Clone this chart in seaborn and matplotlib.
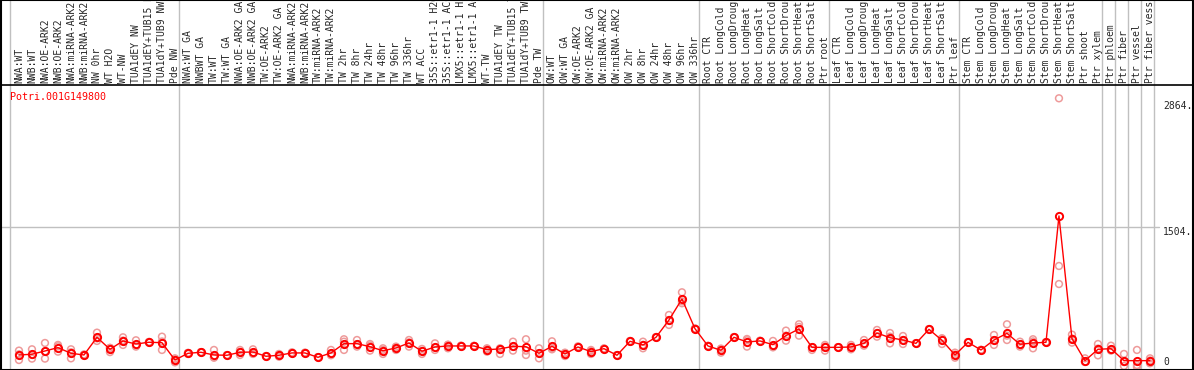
import numpy as np
import pandas as pd
import matplotlib
matplotlib.use("Agg")
import matplotlib.pyplot as plt
import seaborn as sns
from matplotlib.lines import Line2D
from matplotlib.patches import Rectangle
import matplotlib.transforms as mtransforms

gene = "Potri.001G149800"

samples = [
    "NWA:WT", "NWB:WT", "NWA:OE-ARK2", "NWB:OE-ARK2", "NWA:miRNA-ARK2", "NWB:miRNA-ARK2",
    "NW 0hr", "WT H2O", "WT-NW", "TUA1dEY NW", "TUA1dEY+TUB15 NW", "TUA1dY+TUB9 NW", "Pde NW",
    "NWA:WT GA", "NWBWT GA", "TW:WT", "TW:WT GA", "NWA:OE-ARK2 GA", "NWB:OE-ARK2 GA",
    "TW:OE-ARK2", "TW:OE-ARK2 GA", "NWA:miRNA-ARK2", "NWB:miRNA-ARK2", "TW:miRNA-ARK2",
    "TW:miRNA-ARK2", "TW 2hr", "TW 8hr", "TW 24hr", "TW 48hr", "TW 96hr", "TW 336hr",
    "WT ACC", "35S::etr1-1 H2O", "35S::etr1-1 ACC", "LMX5::etr1-1 H2O", "LMX5::etr1-1 ACC",
    "WT-TW", "TUA1dEY TW", "TUA1dEY+TUB15 TW", "TUA1dY+TUB9 TW", "Pde TW",
    "OW:WT", "OW:WT GA", "OW:OE-ARK2", "OW:OE-ARK2 GA", "OW:miRNA-ARK2", "OW:miRNA-ARK2",
    "OW 2hr", "OW 8hr", "OW 24hr", "OW 48hr", "OW 96hr", "OW 336hr",
    "Root CTR", "Root LongCold", "Root LongDrought", "Root LongHeat", "Root LongSalt",
    "Root ShortCold", "Root ShortDrought", "Root ShortHeat", "Root ShortSalt", "Ptr root",
    "Leaf CTR", "Leaf LongCold", "Leaf LongDrought", "Leaf LongHeat", "Leaf LongSalt",
    "Leaf ShortCold", "Leaf ShortDrought", "Leaf ShortHeat", "Leaf ShortSalt", "Ptr leaf",
    "Stem CTR", "Stem LongCold", "Stem LongDrought", "Stem LongHeat", "Stem LongSalt",
    "Stem ShortCold", "Stem ShortDrought", "Stem ShortHeat", "Stem ShortSalt", "Ptr shoot",
    "Ptr xylem", "Ptr phloem", "Ptr fiber", "Ptr vessel", "Ptr fiber vessel",
]

# mean expression per sample
mean_vals = [
    129, 137, 172, 208, 147, 129, 319, 190, 280, 247, 266, 261, 75,
    147, 158, 129, 126, 158, 161, 115, 126, 151, 151, 104, 151, 251, 251, 218,
    175, 204, 258, 169, 215, 226, 226, 226, 186, 194, 222, 218, 147,
    222, 140, 215, 165, 197, 126, 276, 237, 319, 505, 731, 412,
    226, 179, 319, 269, 280, 240, 337, 409, 211, 211,
    211, 215, 254, 365, 315, 290, 254, 405, 287, 129,
    265, 183, 290, 362, 244, 258, 265, 1624, 305, 68, 190,
    197, 68, 68, 68,
]

# replicate values
rep1 = [
    176, 190, 258, 237, 190, 135, 369, 205, 319, 287, 270, 326, 93,
    152, 160, 183, 128, 183, 190, 118, 140, 158, 155, 106, 183, 298, 290, 247,
    201, 219, 290, 194, 254, 237, 230, 228, 201, 201, 272, 298, 201,
    276, 154, 222, 183, 200, 128, 280, 272, 322, 559, 803, 415,
    228, 154, 322, 301, 283, 280, 391, 459, 211, 237,
    213, 237, 290, 398, 326, 333, 256, 408, 308, 154,
    267, 185, 344, 459, 272, 298, 267, 2889, 305, 93, 247,
    229, 140, 183, 93,
]
rep2 = [
    75, 90, 90, 165, 93, 122, 280, 160, 237, 219, 262, 183, 50,
    140, 155, 104, 124, 129, 140, 112, 111, 148, 148, 102, 126, 183, 219, 176,
    140, 183, 219, 140, 183, 201, 222, 224, 165, 140, 176, 176, 93,
    201, 118, 210, 140, 195, 124, 272, 201, 316, 452, 685, 410,
    224, 185, 316, 219, 277, 229, 283, 337, 183, 176,
    209, 190, 229, 326, 254, 247, 252, 402, 247, 100,
    263, 181, 237, 290, 219, 201, 263, 1086, 262, 57, 125,
    176, 11, 0, 40,
]
rep3 = [
    136, 130, 168, 222, 158, 130, 308, 205, 284, 235, 266, 274, 82,
    149, 159, 100, 126, 162, 153, 115, 127, 147, 150, 104, 144, 272, 244, 231,
    184, 210, 265, 173, 208, 240, 226, 226, 192, 183, 218, 129, 147,
    190, 148, 215, 172, 197, 126, 276, 238, 319, 505, 705, 412,
    226, 198, 319, 287, 280, 211, 337, 431, 211, 220,
    211, 218, 243, 365, 365, 290, 254, 405, 306, 133,
    265, 183, 289, 337, 241, 275, 265, 892, 348, 54, 198,
    186, 53, 21, 70,
]

# number of samples before each grey divider
dividers = [0, 13, 41, 53, 63, 73, 84, 85, 86, 87, 88]

idx = np.arange(len(samples))
means = pd.DataFrame({"pos": idx, "value": mean_vals})
reps = pd.DataFrame({
    "pos": np.concatenate([idx, idx, idx]),
    "value": rep1 + rep2 + rep3,
})

W, H = 1194, 370
left_px, right_px, top_px, bottom_px = 10, 1154, 85, 368

sns.set_style("white")
plt.rcParams["font.family"] = ["DejaVu Sans Mono"]

fig = plt.figure(figsize=(W / 100, H / 100), dpi=100)
ax = fig.add_axes([left_px / W, 1 - bottom_px / H,
                   (right_px - left_px) / W, (bottom_px - top_px) / H])

shift = 0.69
ax.set_xlim(-shift, len(samples) - shift)
ax.set_ylim(-11, 3032)

grey = "#c0c0c0"
ext = bottom_px / (bottom_px - top_px)
for d in dividers:
    ax.axvline(d - shift, ymin=0, ymax=ext, color=grey, lw=1, clip_on=False, zorder=0)
ax.axhline(1504, xmin=-10 / 1144, xmax=1 + 5 / 1144, color=grey, lw=1,
           clip_on=False, zorder=0)

sns.scatterplot(data=reps, x="pos", y="value", ax=ax, marker="o", s=24,
                facecolor="none", edgecolor="#ee9a9a", linewidth=1.1,
                zorder=2, clip_on=False, legend=False)
sns.lineplot(data=means, x="pos", y="value", ax=ax, color="red", lw=1,
             marker="o", markersize=5.2, markerfacecolor="none",
             markeredgecolor="red", markeredgewidth=1.4, zorder=3, clip_on=False)

for s in ax.spines.values():
    s.set_visible(False)

ax.xaxis.tick_top()
ax.set_xticks(idx)
ax.set_xticklabels(samples, rotation=90, fontsize=7)
ax.tick_params(axis="x", length=0, pad=1.5, top=True, bottom=False)
ax.set_yticks([])
ax.set_xlabel("")
ax.set_ylabel("")

trans = mtransforms.blended_transform_factory(ax.transAxes, ax.transData)
ax.text(1.0079, 2864, "2864.", transform=trans, fontsize=7, va="top", ha="left")
ax.text(1.0079, 1504, "1504.", transform=trans, fontsize=7, va="top", ha="left")
ax.text(1.0079, -5, "0", transform=trans, fontsize=7, va="bottom", ha="left")

ax.text(0, 1 - 7 / 283, gene, transform=ax.transAxes, color="red",
        fontsize=7.2, va="top", ha="left")

fig.add_artist(Line2D([0, 1], [1 - top_px / H] * 2, transform=fig.transFigure,
                      color="black", lw=1.2))
fig.add_artist(Rectangle((0.0005, 0.001), 0.999, 0.998, transform=fig.transFigure,
                         fill=False, ec="black", lw=1.5))

fig.savefig("out.png", dpi=100)
